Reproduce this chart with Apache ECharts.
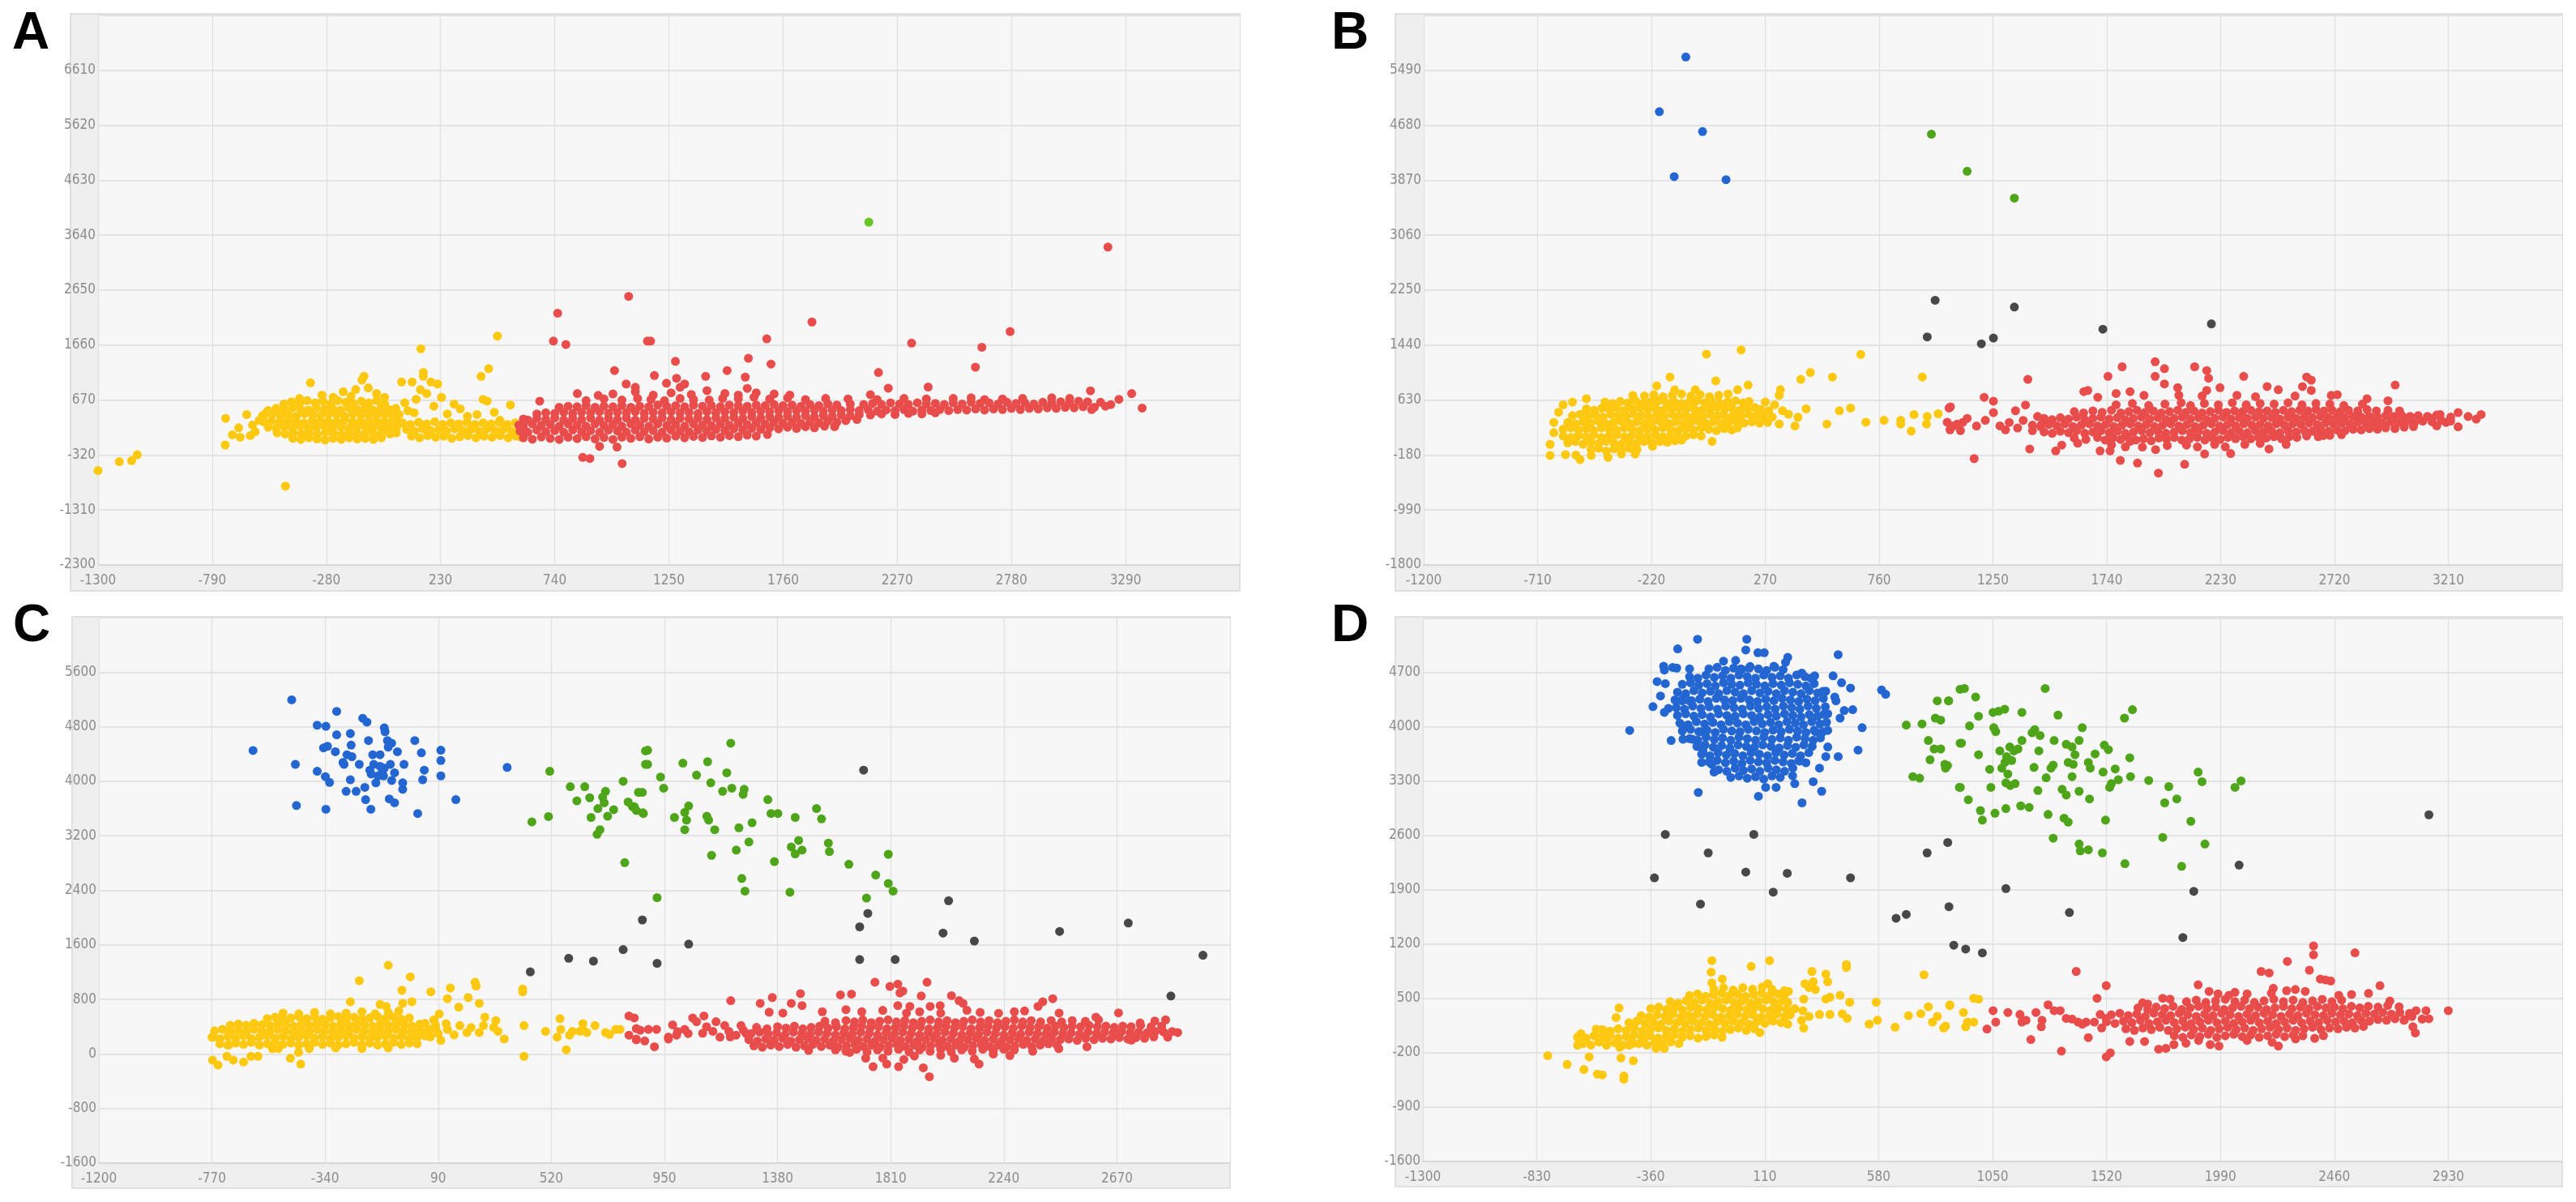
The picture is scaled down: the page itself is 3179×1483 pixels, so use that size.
<!DOCTYPE html>
<html><head><meta charset="utf-8">
<script src="https://cdn.jsdelivr.net/npm/echarts@6/dist/echarts.min.js"></script>
<style>html,body{margin:0;padding:0;background:#fff}#c{width:3179px;height:1483px}</style>
</head><body><div id="c"></div>
<script>
const panelLabels=['A','B','C','D'];
const aXRange=[-1300,3800,510], aYRange=[-2300,7600,990];
const bXRange=[-1200,3700,490], bYRange=[-1800,6300,810];
const cXRange=[-1200,3100,430], cYRange=[-1600,6400,800];
const dXRange=[-1300,3400,470], dYRange=[-1600,5400,700];

// ---------- Panel A ----------
const aYellow=[[-1300,-600],[-1205,-440],[-1150,-420],[-1125,-315],
[-730,340],[-732,-140],[-700,45],[-665,0],[-620,30],[-672,170],[-636,410],[-580,305],[-598,100],[-610,220],[-565,390],[-545,460],[-463,-880],[-351,980],
[-470,600],[-436,640],[-400,610],[-366,660],[-330,620],[-296,650],[-262,600],[-228,660],[-194,630],[-160,610],[-124,650],[-90,620],[-56,660],[-20,600],
[-540,480],[-504,520],[-468,500],[-432,530],[-396,510],[-360,490],[-324,530],[-288,500],[-252,520],[-216,490],[-180,530],[-144,500],[-108,520],[-72,490],[-36,530],[0,500],[30,520],
[-558,400],[-522,420],[-486,390],[-450,410],[-414,380],[-378,420],[-342,400],[-306,390],[-270,420],[-234,400],[-198,380],[-162,420],[-126,400],[-90,390],[-54,410],[-18,400],[18,380],[45,410],
[-560,280],[-524,300],[-488,270],[-452,300],[-416,290],[-380,260],[-344,300],[-308,280],[-272,290],[-236,270],[-200,300],[-164,280],[-128,290],[-92,270],[-56,300],[-20,280],[16,290],[40,270],
[-540,180],[-504,160],[-468,190],[-432,170],[-396,200],[-360,160],[-324,180],[-288,200],[-252,170],[-216,190],[-180,160],[-144,180],[-108,200],[-72,170],[-36,190],[0,160],[34,180],
[-500,80],[-464,60],[-428,90],[-392,60],[-356,80],[-320,50],[-284,90],[-248,70],[-212,50],[-176,80],[-140,60],[-104,90],[-68,60],[-32,80],[4,60],[32,80],
[-430,-20],[-394,-40],[-358,-10],[-322,-30],[-286,-50],[-250,-20],[-214,-40],[-178,-10],[-142,-30],[-106,-20],[-70,-40],[-34,-10],
[-112,1100],[-121,1030],[-149,860],[-93,890],[-205,820],[-56,790],[-300,760],[-250,720],[-20,720],[-400,700],[-170,740],
[56,995],[103,995],[153,1167],[153,1098],[187,995],[217,960],[140,857],[121,684],[168,788],[84,478],[112,443],[234,719],[142,1594],[484,1822],[445,1236],[411,1098],[420,684],[438,650],[318,512],[542,581],[495,306],[393,409],[70,620],[200,560],[260,420],[290,600],[350,380],[470,450],
[60,260],[96,230],[132,270],[168,240],[204,280],[240,230],[276,260],[312,240],[348,270],[384,230],[420,260],[456,240],[492,270],[528,230],[564,260],
[78,140],[114,110],[150,150],[186,120],[222,140],[258,110],[294,150],[330,120],[366,140],[402,110],[438,150],[474,120],[510,140],[546,110],[580,140],
[100,20],[136,-10],[172,30],[208,0],[244,20],[280,-20],[316,10],[352,30],[388,-10],[424,20],[460,0],[496,30],[532,-10],[568,20],[590,0]];
const aRed=[[600,-10],[640,-35],[680,5],[720,-20],[760,-40],[800,0],[840,-25],[880,10],[920,-30],[960,-5],[1000,-40],[1040,0],[1080,-20],[1120,10],[1160,-30],[1200,0],[1240,-15],[1280,20],[1320,-10],[1360,15],[1400,-5],[1440,25],[1480,0],[1520,30],[1560,10],[1600,40],[1640,20],[1690,50],
[585,110],[620,90],[660,130],[700,100],[740,120],[780,90],[820,130],[860,100],[900,120],[940,90],[980,130],[1020,110],[1060,90],[1100,130],[1140,100],[1180,120],[1220,90],[1260,130],[1300,110],[1340,100],[1380,130],[1420,110],[1460,140],[1500,120],[1540,150],[1580,130],[1620,160],[1660,140],[1700,170],[1740,150],[1780,180],[1820,160],[1860,190],[1900,170],[1945,200],[1990,190],
[580,220],[600,200],[640,240],[680,210],[720,230],[760,200],[800,240],[840,220],[880,200],[920,240],[960,210],[1000,230],[1040,200],[1080,240],[1120,220],[1160,200],[1200,240],[1240,210],[1280,230],[1320,200],[1360,240],[1400,220],[1440,210],[1480,240],[1520,220],[1560,250],[1600,230],[1640,260],[1680,240],[1720,270],[1760,250],[1800,270],[1840,250],[1880,280],[1920,260],[1960,290],[2000,270],[2040,300],[2090,320],
[600,330],[620,310],[660,340],[700,320],[740,350],[780,310],[820,340],[860,320],[900,350],[940,310],[980,340],[1020,320],[1060,350],[1100,310],[1140,340],[1180,330],[1220,350],[1260,320],[1300,340],[1340,330],[1380,350],[1420,320],[1460,350],[1500,340],[1540,360],[1580,340],[1620,370],[1660,350],[1700,370],[1740,360],[1780,380],[1820,360],[1860,390],[1900,370],[1940,390],[1980,380],[2020,400],[2060,390],[2100,410],[2150,400],[2200,420],[2260,410],[2320,430],[2380,420],[2440,440],
[660,420],[700,440],[740,430],[780,450],[820,430],[860,450],[900,440],[940,460],[980,430],[1020,450],[1060,440],[1100,460],[1140,430],[1180,450],[1220,440],[1260,460],[1300,440],[1340,450],[1380,430],[1420,460],[1460,440],[1500,460],[1540,450],[1580,470],[1620,450],[1660,470],[1700,460],[1740,480],[1780,460],[1820,480],[1860,470],[1900,490],[1940,470],[1980,490],[2020,480],[2060,500],[2100,480],[2140,500],[2180,470],[2220,490],[2260,480],[2300,500],[2340,470],[2380,490],[2420,480],[2460,500],[2500,480],[2540,500],[2580,490],[2620,510],[2660,490],[2700,510],[2740,500],[2780,520],[2820,500],[2860,520],[2900,510],[2940,530],[2980,520],[3020,540],[3060,530],[3100,550],[3150,540],[3200,560],
[760,540],[800,560],[840,550],[880,570],[920,540],[960,560],[1000,550],[1040,570],[1080,540],[1120,560],[1160,550],[1200,580],[1240,560],[1280,570],[1320,550],[1360,580],[1400,560],[1440,570],[1480,550],[1520,580],[1560,570],[1600,560],[1640,580],[1680,570],[1720,590],[1760,570],[1800,580],[1840,560],[1880,590],[1920,570],[1960,600],[2000,580],[2060,600],[2120,590],[2160,610],[2200,590],[2240,620],[2280,600],[2320,590],[2360,620],[2400,600],[2440,610],[2480,590],[2520,620],[2560,600],[2600,630],[2640,610],[2680,620],[2720,600],[2760,630],[2800,610],[2840,620],[2880,600],[2920,630],[2960,620],[3000,640],[3040,630],[3080,650],[3120,640],
[880,660],[960,690],[1040,670],[1110,700],[1170,680],[1230,660],[1300,700],[1360,680],[1430,670],[1490,700],[1560,690],[1630,720],[1700,690],[1780,710],[1860,680],[1950,700],[2050,690],[2180,680],[2300,700],[2400,690],[2520,700],[2600,710],[2660,680],[2740,690],[2830,700],[2960,710],[3040,700],
[1000,780],[1100,820],[1180,760],[1260,800],[1350,770],[1420,840],[1500,790],[1560,760],[1640,800],[1720,780],[1790,760],[1100,900],[1300,900],[1600,880],
[3211,3427],[1889,2077],[1687,1773],[1154,1732],[2334,1697],[2774,1904],[2648,1622],[2619,1263],[2186,1167],[1605,1422],[1706,1319],[1279,1367],[1510,1201],[1591,1084],[2408,905],[2230,884],[3133,836],[3317,788],[3364,526],[3260,684],[3224,589],[3178,630],[3138,499],[2150,767],[1185,1112],[1414,1098],[1284,1063],[1320,960],[1239,974],[753,2235],[734,1732],[790,1670],[1070,2538],[1168,1732],[1007,1201],[1059,960],[841,788],[934,754],[673,650],[865,-363],[897,-383],[1041,-473],[940,-163],[1018,-177]];
const aGreen=[[2143,3875]];

// ---------- Panel B ----------
const bYellow=[[-480,-100],[-447,-80],[-414,-120],[-381,-90],[-348,-110],[-315,-80],[-282,-100],
[-580,0],[-547,20],[-514,-20],[-481,10],[-448,-10],[-415,20],[-382,0],[-349,-20],[-316,10],[-283,-10],[-250,20],[-217,0],[-184,20],[-151,10],[-118,30],[-90,40],
[-600,100],[-567,80],[-534,110],[-501,90],[-468,120],[-435,80],[-402,100],[-369,120],[-336,90],[-303,110],[-270,80],[-237,100],[-204,120],[-171,90],[-138,110],[-105,80],[-72,100],[-39,120],[-6,100],
[-600,200],[-567,220],[-534,190],[-501,210],[-468,180],[-435,220],[-402,200],[-369,190],[-336,220],[-303,200],[-270,180],[-237,210],[-204,190],[-171,220],[-138,200],[-105,180],[-72,210],[-39,190],[-6,220],[27,200],[60,180],[93,210],[126,190],[150,220],
[-580,300],[-547,280],[-514,310],[-481,290],[-448,320],[-415,280],[-382,300],[-349,320],[-316,290],[-283,310],[-250,280],[-217,300],[-184,320],[-151,290],[-118,310],[-85,280],[-52,300],[-19,320],[14,290],[47,310],[80,280],[113,300],[146,320],[179,290],[212,310],[245,290],
[-560,400],[-527,420],[-494,390],[-461,410],[-428,380],[-395,420],[-362,400],[-329,390],[-296,420],[-263,400],[-230,380],[-197,410],[-164,390],[-131,420],[-98,400],[-65,380],[-32,410],[1,390],[34,420],[67,400],[100,380],[133,410],[166,390],[199,420],[232,400],[262,390],
[-500,500],[-467,480],[-434,510],[-401,490],[-368,520],[-335,480],[-302,500],[-269,520],[-236,490],[-203,510],[-170,480],[-137,500],[-104,520],[-71,490],[-38,510],[-5,480],[28,500],[61,520],[94,490],[127,510],[160,480],[193,500],[226,520],[250,490],
[-420,600],[-387,580],[-354,610],[-321,590],[-288,620],[-255,580],[-222,600],[-189,620],[-156,590],[-123,610],[-90,580],[-57,600],[-24,620],[9,590],[42,610],[75,580],[108,600],[141,620],[174,590],[200,610],
[-250,690],[-210,710],[-170,680],[-130,700],[-90,720],[-50,690],[-10,710],[30,680],[70,700],[110,720],
[-656,-23],[-656,-186],[-590,-175],[-527,-248],[-545,-180],[-479,-186],[-407,-214],[-349,-164],[-290,-164],[-215,-51],[-158,22],[41,22],[-640,300],[-640,150],[-620,450],[-600,560],[-560,600],[-500,650],
[-140,969],[17,1307],[166,1369],[57,913],[-31,783],[196,851],[151,783],[-197,840],[-120,780],[-300,700],
[285,473],[335,783],[330,700],[330,276],[344,473],[398,248],[411,377],[423,935],[464,1037],[446,501],[535,276],[559,969],[589,473],[637,512],[681,1302],[703,304],[781,332],[853,332],[853,276],[898,174],[910,417],[946,969],[967,389],[964,276],[1014,428],[300,380],[280,300],[310,560],[370,420],[270,600]];
const bRed=[[1067,530],[1053,304],[1080,250],[1110,180],[1120,300],[1061,513],[1065,191],[1139,360],[1096,276],[1212,671],[1252,614],[1252,445],[1217,332],[1169,-232],[1179,248],[1304,191],[1347,473],[1390,558],[1400,935],[1356,219],[1408,-91],[1442,389],[1460,276],[1320,300],[1280,250],[1380,330],[1420,180],
[1641,755],[1658,772],[1745,980],[1806,1121],[1948,1195],[1988,1093],[1948,980],[1988,868],[2045,812],[2118,1121],[2170,1065],[2178,952],[2170,772],[2227,812],[2329,980],[2430,829],[2478,783],[2582,829],[2600,969],[2620,924],[2620,772],[2981,851],[2706,699],[2732,710],[1701,671],[1780,727],[1840,755],[2300,700],[2380,680],[2550,690],[2150,690],[2050,700],[1900,700],[2860,650],[2950,620],
[1520,-119],[1546,-34],[1615,-6],[1711,-119],[1754,-119],[1798,-260],[1872,-299],[1962,-446],[2075,-316],[2161,-164],[2204,-23],[2273,-158],[2334,-23],[2438,-91],[2512,-23],[2672,107],[1893,-62],[1840,22],[2083,-34],[1760,-30],[1820,-60],[1950,-100],[2000,-40],[2130,-60],[2250,-60],[2400,-10],
[3252,445],[3252,236],[3295,389],[3330,349],[3351,417],[3140,360],[3174,417],[3200,300],[3160,250],[3220,380],
[1600,70],[1650,50],[1700,80],[1733,40],[1766,70],[1799,50],[1832,80],[1865,40],[1898,60],[1931,30],[1964,70],[1997,50],[2030,80],[2063,40],[2096,60],[2129,80],[2162,40],[2195,70],[2228,50],[2261,80],[2294,60],[2327,90],[2360,60],[2393,80],[2426,70],[2459,90],[2492,60],[2525,90],[2558,80],[2600,100],[2650,90],[2700,110],[2750,120],
[1470,160],[1505,140],[1540,170],[1575,150],[1610,180],[1645,140],[1680,160],[1715,180],[1750,150],[1785,170],[1820,140],[1855,160],[1890,180],[1925,150],[1960,170],[1995,140],[2030,160],[2065,180],[2100,150],[2135,170],[2170,140],[2205,160],[2240,180],[2275,150],[2310,170],[2345,150],[2380,180],[2415,160],[2450,170],[2485,150],[2520,180],[2555,160],[2590,180],[2625,170],[2660,190],[2695,170],[2730,190],[2765,180],[2800,200],[2835,190],[2870,210],[2905,200],[2940,220],[2980,210],[3020,230],[3060,240],
[1420,260],[1455,240],[1490,270],[1525,250],[1560,280],[1595,240],[1630,260],[1665,280],[1700,250],[1735,270],[1770,240],[1805,260],[1840,280],[1875,250],[1910,270],[1945,240],[1980,260],[2015,280],[2050,250],[2085,270],[2120,240],[2155,260],[2190,280],[2225,250],[2260,270],[2295,250],[2330,280],[2365,260],[2400,270],[2435,250],[2470,280],[2505,260],[2540,280],[2575,270],[2610,290],[2645,270],[2680,290],[2715,280],[2750,290],[2785,280],[2820,300],[2855,290],[2890,300],[2925,290],[2960,310],[2995,300],[3030,310],[3065,300],[3100,320],[3140,310],[3180,330],[3220,320],
[1470,360],[1505,340],[1540,370],[1575,350],[1610,380],[1645,340],[1680,360],[1715,380],[1750,350],[1785,370],[1820,340],[1855,360],[1890,380],[1925,350],[1960,370],[1995,340],[2030,360],[2065,380],[2100,350],[2135,370],[2170,340],[2205,360],[2240,380],[2275,350],[2310,370],[2345,360],[2380,380],[2415,360],[2450,370],[2485,350],[2520,380],[2555,360],[2590,380],[2625,370],[2660,390],[2695,370],[2730,380],[2765,370],[2800,390],[2835,380],[2870,390],[2905,380],[2940,400],[2975,390],[3010,400],[3045,390],[3080,400],[3120,390],[3160,410],
[1600,460],[1640,440],[1680,470],[1720,450],[1760,480],[1800,440],[1835,460],[1870,480],[1905,450],[1940,470],[1975,440],[2010,460],[2045,480],[2080,450],[2115,470],[2150,440],[2185,460],[2220,480],[2255,450],[2290,470],[2325,460],[2360,480],[2395,460],[2430,470],[2465,450],[2500,480],[2535,460],[2570,480],[2605,470],[2640,490],[2675,470],[2710,480],[2745,460],[2780,480],[2820,470],[2860,490],[2900,470],[2950,480],[3000,470],
[1780,560],[1850,580],[1920,550],[1990,570],[2060,590],[2100,550],[2160,580],[2220,560],[2280,590],[2340,560],[2400,580],[2460,570],[2520,590],[2580,560],[2640,580],[2700,570],[2760,550],[2840,570]];
const bBlue=[[-72,5687],[-186,4881],[0,4588],[-122,3923],[101,3878]];
const bGreen=[[985,4549],[1139,4002],[1342,3607]];
const bGray=[[1001,2102],[967,1561],[1342,2001],[1200,1459],[1252,1544],[1723,1674],[2190,1753]];

// ---------- Panel C ----------
const cYellow=[[-740,150],[-710,130],[-680,160],[-650,140],[-620,170],[-590,130],[-560,150],[-530,170],[-500,140],[-470,160],[-440,130],[-410,150],[-380,170],[-350,140],[-320,160],[-290,130],[-260,150],[-230,170],[-200,140],[-170,160],[-140,130],[-110,150],[-80,170],[-50,140],[-20,160],[10,150],
[-770,245],[-740,225],[-710,255],[-680,235],[-650,265],[-620,225],[-590,245],[-560,265],[-530,235],[-500,255],[-470,225],[-440,245],[-410,265],[-380,235],[-350,255],[-320,225],[-290,245],[-260,265],[-230,235],[-200,255],[-170,225],[-140,245],[-110,265],[-80,235],[-50,255],[-20,225],[10,245],[40,265],
[-760,340],[-730,360],[-700,330],[-670,350],[-640,320],[-610,360],[-580,340],[-550,330],[-520,360],[-490,340],[-460,320],[-430,350],[-400,330],[-370,360],[-340,340],[-310,320],[-280,350],[-250,330],[-220,360],[-190,340],[-160,320],[-130,350],[-100,330],[-70,360],[-40,340],[-10,320],[20,350],[50,330],
[-700,420],[-670,440],[-640,420],[-610,450],[-580,430],[-550,420],[-520,450],[-490,430],[-460,410],[-430,440],[-400,420],[-370,450],[-340,430],[-310,410],[-280,440],[-250,420],[-220,450],[-190,430],[-160,410],[-130,440],[-100,420],[-70,450],[-40,430],[-10,410],[20,440],
[-560,520],[-530,540],[-500,510],[-470,530],[-440,550],[-410,520],[-380,540],[-350,510],[-320,530],[-290,550],[-260,520],[-230,540],[-200,510],[-170,530],[-140,550],[-110,520],[-80,540],[-50,510],[-20,530],
[-500,600],[-440,590],[-380,610],[-320,590],[-260,600],[-200,620],[-150,590],[-100,610],[-60,630],
[-765,248],[-768,-90],[-747,-163],[-713,-34],[-689,-90],[-650,-118],[-622,-34],[-595,-34],[-705,135],[-540,79],[-518,79],[-472,-62],[-441,23],[-433,-147],[-244,766],[-210,1076],[-100,1301],[-16,1132],[-48,935],[-45,743],[-10,766],[-131,727],[-108,698],[-400,80],[-300,90],[-200,80],[-100,90],
[62,912],[136,969],[125,811],[204,828],[230,1053],[234,997],[246,743],[168,687],[94,586],[73,501],[267,541],[309,490],[341,220],[317,332],[301,389],[262,417],[215,389],[246,315],[199,315],[172,417],[120,445],[125,360],[81,360],[58,360],[411,952],[411,912],[416,417],[416,-34],[498,332],[553,518],[542,248],[556,360],[577,62],[600,332],[589,276],[640,445],[640,360],[629,332],[655,315],[686,417],[726,315],[741,287],[765,360],[781,360],[60,250],[90,300],[100,200],[150,280],[40,450],[80,420]];
const cRed=[[815,558],[843,372],[815,276],[843,208],[875,191],[835,529],[858,349],[889,360],[920,360],[965,248],[981,428],[996,276],[1027,360],[1057,529],[1072,473],[1100,558],[1095,304],[1134,332],[1146,473],[1161,248],[1179,417],[1195,332],[1222,276],[1241,417],[1260,300],[912,107],[843,220],[965,220],[1000,330],[1040,300],[1110,400],[1200,250],[1250,350],
[1202,783],[1314,743],[1360,828],[1348,614],[1432,743],[1467,885],[1473,710],[1619,868],[1661,879],[1750,1053],[1807,991],[1837,1025],[1845,896],[1856,924],[1948,1053],[1926,851],[1837,710],[1883,698],[2041,856],[2070,783],[2085,743],[1960,698],[1998,710],[2388,766],[2426,811],[2370,698],[2319,631],[2220,597],[2676,603],[2590,541],[2758,456],[2814,484],[2855,501],[2901,315],[2863,248],[2725,203],[1700,620],[1780,640],[1870,600],[1920,620],[2000,600],[2100,640],[2150,610],[2280,620],[2450,600],[1400,600],[1550,620],[1640,650],
[1743,-186],[1795,-147],[1840,-186],[1957,-333],[1934,-203],[2052,-62],[2128,-73],[2146,-147],[2263,-23],[1715,-62],[1654,23],[1498,51],[2556,107],[2449,79],[1780,-60],[1860,-80],[1900,-30],[2000,-20],[2200,0],[2350,40],
[1600,60],[1640,40],[1680,70],[1720,30],[1760,60],[1800,40],[1840,70],[1880,30],[1920,60],[1960,40],[2000,70],[2040,30],[2080,60],[2120,40],[2160,70],[2200,50],[2240,70],[2280,60],
[1290,120],[1322,100],[1354,130],[1386,110],[1418,140],[1450,100],[1482,120],[1514,140],[1546,110],[1578,130],[1610,100],[1642,120],[1674,140],[1706,110],[1738,130],[1770,100],[1802,120],[1834,140],[1866,110],[1898,130],[1930,100],[1962,120],[1994,140],[2026,110],[2058,130],[2090,100],[2122,120],[2154,140],[2186,110],[2218,130],[2250,100],[2282,120],[2314,140],[2346,110],[2378,130],[2410,150],[2442,130],
[1271,210],[1303,190],[1335,220],[1367,200],[1399,230],[1431,190],[1463,210],[1495,230],[1527,200],[1559,220],[1591,190],[1623,210],[1655,230],[1687,200],[1719,220],[1751,190],[1783,210],[1815,230],[1847,200],[1879,220],[1911,190],[1943,210],[1975,230],[2007,200],[2039,220],[2071,190],[2103,210],[2135,230],[2167,200],[2199,220],[2231,190],[2263,210],[2295,230],[2327,200],[2359,220],[2391,200],[2423,230],[2455,210],[2487,220],[2519,200],[2551,230],[2583,210],[2615,230],[2647,220],[2679,240],[2711,220],[2743,240],[2775,230],[2810,250],
[1280,300],[1312,320],[1344,290],[1376,310],[1408,280],[1440,320],[1472,300],[1504,290],[1536,320],[1568,300],[1600,280],[1632,310],[1664,290],[1696,320],[1728,300],[1760,280],[1792,310],[1824,290],[1856,320],[1888,300],[1920,280],[1952,310],[1984,290],[2016,320],[2048,300],[2080,280],[2112,310],[2144,290],[2176,320],[2208,300],[2240,280],[2272,310],[2304,290],[2336,320],[2368,300],[2400,290],[2432,320],[2464,300],[2496,310],[2528,290],[2560,320],[2592,300],[2624,320],[2656,310],[2688,330],[2720,310],[2752,320],[2784,310],[2816,330],[2848,320],[2880,330],
[1300,390],[1340,370],[1380,400],[1412,380],[1444,410],[1476,370],[1508,390],[1540,410],[1572,380],[1604,400],[1636,370],[1668,390],[1700,410],[1732,380],[1764,400],[1796,370],[1828,390],[1860,410],[1892,380],[1924,400],[1956,370],[1988,390],[2020,410],[2052,380],[2084,400],[2116,370],[2148,390],[2180,410],[2212,380],[2244,400],[2276,380],[2308,410],[2340,390],[2372,400],[2404,380],[2436,410],[2468,390],[2500,410],[2532,400],[2564,420],[2596,400],[2628,410],[2660,390],[2692,410],[2724,400],[2760,420],[2800,400],[2840,410],
[1560,480],[1600,460],[1640,490],[1672,470],[1704,500],[1736,460],[1768,480],[1800,500],[1832,470],[1864,490],[1896,460],[1928,480],[1960,500],[1992,470],[2024,490],[2056,460],[2088,480],[2120,500],[2152,470],[2184,490],[2216,460],[2248,480],[2280,500],[2312,470],[2344,490],[2380,470],[2420,490],[2460,470],[2500,490],[2550,480],[2600,500]];
const cBlue=[[-467,5194],[-614,4451],[-453,4248],[-449,3645],[-337,3589],[-370,4822],[-337,4806],[-296,5025],[-296,4682],[-244,4699],[-346,4490],[-331,4513],[-301,4434],[-257,4389],[-238,4361],[-268,4248],[-272,4276],[-370,4146],[-339,4068],[-323,3983],[-244,4022],[-260,3853],[-222,3853],[-197,4924],[-181,4868],[-115,4783],[-112,4727],[-175,4597],[-159,4389],[-131,4389],[-170,4163],[-165,4107],[-131,4220],[-123,4135],[-115,4191],[-92,4248],[-87,4558],[-100,4501],[-103,4597],[-65,4434],[-87,4011],[-76,4124],[-118,4079],[-147,3977],[-189,3910],[-186,3730],[-166,3589],[-96,3741],[-76,3684],[-45,3977],[-45,3882],[-40,4248],[1,4597],[26,4417],[37,4163],[31,4022],[100,4456],[100,4304],[100,4079],[12,3527],[157,3730],[352,4203],[-241,4530],[-210,4248],[-155,4248],[-139,4079]];
const cGreen=[[514,4146],[446,3403],[509,3482],[592,3921],[647,3921],[617,3713],[666,3758],[697,3600],[671,3470],[694,3222],[705,3290],[715,3769],[726,3853],[721,3684],[734,3487],[757,3583],[793,4000],[799,2806],[812,3696],[828,3628],[843,3572],[867,3538],[851,3837],[878,4445],[878,4248],
[886,4456],[886,4248],[935,4062],[947,3899],[866,3837],[835,3628],[870,3527],[922,2293],[1020,4265],[1072,4090],[1114,4287],[1126,3977],[1202,4558],[1187,4124],[1171,3853],[1206,3899],[1253,3882],[1249,3808],[988,3470],[1027,3543],[1042,3639],[1034,3431],[1027,3290],[1111,3487],[1118,3431],[1141,3290],[1129,2913],[1233,3318],[1223,2991],[1271,3110],[1283,3392],[1244,2575],[1256,2389],[1343,3730],[1355,3527],[1381,3527],[1368,2822],[1447,3470],[1432,3037],[1447,2935],[1460,3132],[1473,2991],[1427,2372],[1528,3600],[1547,3448],[1573,3093],[1577,2969],[1651,2783],[1753,2625],[1801,2929],[1801,2501],[1819,2389],[1718,2287]];
const cGray=[[1707,4163],[1042,1611],[922,1330],[1692,1865],[1723,2062],[1692,1386],[1827,1386],[2030,2248],[2009,1774],[2128,1656],[2452,1797],[2713,1921],[2997,1448],[2875,851],[440,1205],[586,1403],[680,1363],[793,1532],[866,1966]];

// ---------- Panel D ----------
const dYellow=[[-640,-80],[-607,-100],[-574,-60],[-541,-90],[-508,-70],[-475,-100],[-442,-60],[-409,-80],[-376,-100],[-343,-70],[-310,-90],[-277,-60],[-244,-80],
[-660,10],[-627,-10],[-594,20],[-561,0],[-528,30],[-495,-10],[-462,10],[-429,30],[-396,0],[-363,20],[-330,-10],[-297,10],[-264,30],[-231,0],[-198,20],[-165,-10],[-132,10],[-99,30],[-66,0],
[-560,100],[-527,80],[-494,110],[-461,90],[-428,120],[-395,80],[-362,100],[-329,120],[-296,90],[-263,110],[-230,80],[-197,100],[-164,120],[-131,90],[-98,110],[-65,80],[-32,100],[1,120],[34,90],[67,110],[90,60],
[-450,190],[-417,210],[-384,180],[-351,200],[-318,170],[-285,210],[-252,190],[-219,180],[-186,210],[-153,190],[-120,170],[-87,200],[-54,180],[-21,210],[12,190],[45,170],[78,200],[111,180],[144,210],[177,190],[205,170],
[-400,280],[-367,260],[-334,290],[-301,270],[-268,300],[-235,260],[-202,280],[-169,300],[-136,270],[-103,290],[-70,260],[-37,280],[-4,300],[29,270],[62,290],[95,260],[128,280],[161,300],[194,270],[215,290],
[-360,370],[-327,390],[-294,360],[-261,380],[-228,350],[-195,390],[-162,370],[-129,360],[-96,390],[-63,370],[-30,350],[3,380],[36,360],[69,390],[102,370],[135,350],[168,380],[201,360],
[-280,460],[-247,440],[-214,470],[-181,450],[-148,480],[-115,440],[-82,460],[-49,480],[-16,450],[17,470],[50,440],[83,460],[116,480],[149,450],[182,470],[205,450],
[-200,540],[-167,560],[-134,530],[-101,550],[-68,570],[-35,540],[-2,560],[31,530],[64,550],[97,570],[130,540],[163,560],[190,540],
[-100,620],[-60,640],[-20,610],[20,640],[60,620],[100,650],[140,620],
[-785,-236],[-705,-350],[-636,-415],[-580,-474],[-560,-484],[-471,-499],[-471,-539],[-432,-301],[-483,-266],[-614,-251],[-662,-3],[-662,-102],[-648,47],[-628,-53],[-585,106],[-580,-3],[-543,71],[-539,-3],[-543,-102],[-491,379],[-503,255],[-488,-127],[-449,-102],[-432,-77],[-389,-53],[-338,-142],[-304,-142],[-108,989],[54,915],[130,989],[-111,840],[-108,701],[-65,751],[123,691],[191,602],[208,592],
[234,369],[276,691],[293,642],[310,716],[305,850],[319,617],[362,815],[370,716],[379,518],[421,543],[362,493],[271,493],[267,344],[262,220],[271,121],[293,270],[336,295],[379,295],[430,305],[447,940],[447,900],[461,453],[450,245],[541,171],[570,453],[575,220],[648,131],[703,280],[754,305],[767,806],[785,394],[802,196],[822,270],[848,121],[874,418],[856,146],[873,409],[930,320],[939,136],[947,196],[972,196],[972,503],[992,493]];
const dRed=[[1052,344],[1063,196],[1027,107],[1113,320],[1163,295],[1171,196],[1188,220],[1208,-28],[1229,320],[1254,220],[1251,136],[1279,419],[1304,344],[1329,344],[1334,-177],[1354,245],[1395,850],[1378,235],[1403,196],[1420,171],[1445,-3],[1436,196],[1481,503],[1470,196],[1494,295],[1519,667],[1519,-251],[1536,-201],[1519,245],[1500,120],
[1752,503],[1782,493],[1669,444],[1690,430],[1898,677],[1943,592],[2025,543],[2158,850],[2191,830],[2266,979],[2208,632],[2263,602],[2299,617],[2340,592],[2357,865],[2374,1178],[2374,1064],[2402,751],[2423,741],[2445,726],[2545,1089],[2478,543],[2531,553],[2601,567],[2648,667],[2689,468],[2727,394],[2100,560],[2050,580],[1980,560],[2200,570],
[1616,-53],[1677,-53],[1735,-152],[1765,-142],[1798,-93],[1848,-77],[1948,-93],[1984,-112],[2203,-63],[2229,-112],[2379,-13],[2415,22],[2784,136],[2794,57],[1900,-40],[2100,-40],[2300,-20],
[2797,344],[2838,344],[2822,235],[2850,240],[2930,344],[2780,270],[2747,220],
[1800,20],[1835,0],[1870,30],[1905,10],[1940,40],[1975,0],[2010,20],[2045,40],[2080,10],[2115,30],[2150,0],[2185,20],[2220,40],[2255,10],[2290,30],[2330,20],
[1600,110],[1635,90],[1670,120],[1705,100],[1740,130],[1775,90],[1810,110],[1845,130],[1880,100],[1915,120],[1950,90],[1985,110],[2020,130],[2055,100],[2090,120],[2125,90],[2160,110],[2195,130],[2230,100],[2265,120],[2300,90],[2335,110],[2370,130],[2405,100],[2440,120],[2475,110],[2510,130],[2545,120],[2580,140],
[1520,200],[1555,180],[1590,210],[1625,190],[1660,220],[1695,180],[1730,200],[1765,220],[1800,190],[1835,210],[1870,180],[1905,200],[1940,220],[1975,190],[2010,210],[2045,180],[2080,200],[2115,220],[2150,190],[2185,210],[2220,180],[2255,200],[2290,220],[2325,190],[2360,210],[2395,190],[2430,220],[2465,200],[2500,210],[2535,190],[2570,220],[2605,210],[2640,230],[2675,220],[2710,240],[2750,230],
[1540,290],[1575,310],[1610,280],[1645,300],[1680,270],[1715,310],[1750,290],[1785,280],[1820,310],[1855,290],[1890,270],[1925,300],[1960,280],[1995,310],[2030,290],[2065,270],[2100,300],[2135,280],[2170,310],[2205,290],[2240,270],[2275,300],[2310,280],[2345,310],[2380,290],[2415,280],[2450,310],[2485,290],[2520,300],[2555,280],[2590,310],[2625,300],[2660,320],[2695,300],[2730,320],[2770,310],
[1650,380],[1690,360],[1725,390],[1760,370],[1795,400],[1830,360],[1865,380],[1900,400],[1935,370],[1970,390],[2005,360],[2040,380],[2075,400],[2110,370],[2145,390],[2180,360],[2215,380],[2250,400],[2285,370],[2320,390],[2355,370],[2390,400],[2425,380],[2460,390],[2495,370],[2530,400],[2565,380],[2600,400],[2640,390],[2680,410],
[1850,460],[1890,480],[1930,450],[1970,470],[2010,490],[2050,460],[2090,480],[2130,450],[2170,470],[2210,490],[2250,460],[2290,480],[2330,450],[2370,470],[2410,490],[2450,460],[2490,480]];
const dBlue=[[-120,4750],[-86,4770],[-52,4730],[-18,4760],[16,4740],[50,4780],[84,4750],[118,4730],[152,4770],[186,4740],
[-200,4650],[-166,4630],[-132,4670],[-98,4640],[-64,4660],[-30,4630],[4,4670],[38,4650],[72,4630],[106,4670],[140,4640],[174,4660],[208,4630],[242,4670],[276,4650],[300,4630],
[-230,4550],[-196,4570],[-162,4540],[-128,4560],[-94,4530],[-60,4570],[-26,4550],[8,4540],[42,4570],[76,4550],[110,4530],[144,4560],[178,4540],[212,4570],[246,4550],[280,4530],[314,4560],
[-250,4450],[-216,4430],[-182,4470],[-148,4440],[-114,4460],[-80,4430],[-46,4470],[-12,4450],[22,4430],[56,4470],[90,4440],[124,4460],[158,4430],[192,4470],[226,4450],[260,4430],[294,4470],[328,4440],[350,4460],
[-260,4350],[-226,4370],[-192,4340],[-158,4360],[-124,4330],[-90,4370],[-56,4350],[-22,4340],[12,4370],[46,4350],[80,4330],[114,4360],[148,4340],[182,4370],[216,4350],[250,4330],[284,4360],[318,4340],[352,4370],
[-255,4250],[-221,4230],[-187,4270],[-153,4240],[-119,4260],[-85,4230],[-51,4270],[-17,4250],[17,4230],[51,4270],[85,4240],[119,4260],[153,4230],[187,4270],[221,4250],[255,4230],[289,4270],[323,4240],[360,4260],
[-250,4150],[-216,4170],[-182,4140],[-148,4160],[-114,4130],[-80,4170],[-46,4150],[-12,4140],[22,4170],[56,4150],[90,4130],[124,4160],[158,4140],[192,4170],[226,4150],[260,4130],[294,4160],[328,4140],[370,4170],
[-240,4050],[-206,4030],[-172,4070],[-138,4040],[-104,4060],[-70,4030],[-36,4070],[-2,4050],[32,4030],[66,4070],[100,4040],[134,4060],[168,4030],[202,4070],[236,4050],[270,4030],[304,4070],[338,4040],[365,4060],
[-230,3950],[-196,3970],[-162,3940],[-128,3960],[-94,3930],[-60,3970],[-26,3950],[8,3940],[42,3970],[76,3950],[110,3930],[144,3960],[178,3940],[212,3970],[246,3950],[280,3930],[314,3960],[350,3940],
[-200,3850],[-166,3830],[-132,3870],[-98,3840],[-64,3860],[-30,3830],[4,3870],[38,3850],[72,3830],[106,3870],[140,3840],[174,3860],[208,3830],[242,3870],[276,3850],[310,3830],[340,3860],
[-170,3750],[-136,3770],[-102,3740],[-68,3760],[-34,3730],[0,3770],[34,3750],[68,3740],[102,3770],[136,3750],[170,3730],[204,3760],[238,3740],[272,3770],[306,3750],
[-150,3650],[-116,3630],[-82,3670],[-48,3640],[-14,3660],[20,3630],[54,3670],[88,3650],[122,3630],[156,3670],[190,3640],[224,3660],[258,3630],[292,3670],
[-120,3550],[-86,3570],[-52,3540],[-18,3560],[16,3530],[50,3570],[84,3550],[118,3540],[152,3570],[186,3550],[220,3530],[254,3560],[280,3540],
[-80,3450],[-46,3430],[-12,3470],[22,3440],[56,3460],[90,3430],[124,3470],[158,3450],[192,3430],[226,3470],
[-30,3350],[4,3370],[38,3340],[72,3360],[106,3330],[140,3370],[174,3350],
[-447,3956],[-351,4263],[-334,4586],[-307,4784],[-304,4735],[-276,3827],[-270,4769],[-253,4760],[-249,5008],[-304,4189],[-287,4239],[-253,4338],[-230,4338],[-201,4338],[-227,4015],[-218,4005],[-227,3842],[-188,3842],[-167,5132],[-150,3941],[-150,3544],[-145,3693],[-164,3157],[-108,3519],[-99,3420],[36,5132],[32,4993],[82,4958],[108,4958],[-10,4859],[12,4750],[46,4760],[84,3108],[114,3222],[157,3222],[205,4898],[196,4834],[148,4784],[264,3023],[234,3271],[225,3371],[345,3172],[316,4660],[263,4695],[336,3470],[310,3296],[362,4462],[392,4660],[413,4933],[427,4571],[362,3619],[413,3619],[399,4387],[404,4338],[438,4214],[421,4115],[464,4502],[473,4224],[495,3703],[512,3991],[370,3956],[370,3743],[319,3941],[592,4477],[609,4422],[353,4164],[251,3569],[-60,4850],[-200,4750],[-300,4560],[-320,4400]];
const dGreen=[[694,4025],[759,4040],[822,4338],[868,4338],[814,4115],[836,4090],[785,3827],[809,3718],[836,3718],[792,3579],[853,3519],[856,3470],[721,3361],[749,3341],[916,4487],[916,3792],[913,3222],
[869,4338],[864,3504],[934,4497],[980,4387],[992,4139],[955,4015],[922,3792],[992,3643],[917,3222],[950,3063],[1000,2924],[1008,2800],[1038,3455],[1043,3222],[1060,2889],[1105,2949],[1052,4189],[1075,4204],[1100,4229],[1055,3991],[1063,3941],[1080,3693],[1088,3470],[1101,3544],[1108,3619],[1121,3743],[1138,3693],[1155,3718],[1129,3569],[1113,3395],[1105,3281],[1123,3246],[1143,3271],[1171,4189],[1171,3827],[1166,2984],[1201,2964],[1213,3926],[1221,3479],[1224,3966],[1246,3891],[1241,3693],[1267,4497],[1237,3182],[1279,2874],[1271,3346],[1291,3470],[1304,3827],[1320,4154],[1300,3509],[1337,3197],[1345,2825],[1354,3123],[1362,2775],[1354,3777],[1378,3743],[1390,3643],[1362,3544],[1383,3519],[1378,3361],[1407,3172],[1407,3827],[1420,3991],[1407,2492],[1412,2403],[1445,2418],[1300,2567],[1450,3073],[1445,3544],[1453,3470],[1473,3653],[1503,2378],[1516,2800],[1506,3420],[1511,3767],[1528,3708],[1533,3222],[1540,3271],[1556,3460],[1569,3321],[1594,4115],[1627,4224],[1616,3604],[1619,3361],[1596,2239],[1694,3311],[1752,2577],[1760,3023],[1777,3232],[1810,3073],[1830,2205],[1868,2785],[1898,3420],[1914,3296],[1926,2492],[2050,3222],[2075,3306]];
const dGray=[[-300,2616],[65,2616],[-123,2378],[-345,2056],[32,2130],[203,2115],[464,2056],[145,1872],[-155,1718],[652,1535],[694,1585],[780,2378],[865,2512],[870,1684],[890,1188],[939,1138],[1008,1088],[1105,1917],[1367,1609],[1835,1287],[1880,1882],[2067,2220],[2850,2869]];

// ---------- layout ----------
const FONT="'Liberation Sans Narrow','DejaVu Sans Condensed','Liberation Sans',Arial,sans-serif";
const grids=[
 {left:121,top:19,width:1409,height:678},
 {left:1757,top:19,width:1405,height:678},
 {left:122,top:762,width:1396,height:673},
 {left:1756,top:763,width:1406,height:670}];
const frames=[[87,17,1443,712],[1722,17,1440,712],[89,761,1429,705],[1722,761,1440,703]];
const letterPos=[[15,42],[1643,42],[16,773],[1643,773]];
const xr=[aXRange,bXRange,cXRange,dXRange], yr=[aYRange,bYRange,cYRange,dYRange];
const COL={yellow:'#fdc810',red:'#e94d4b',blue:'#2366d1',green:'#4fa51a',greenA:'#63c720',gray:'#484848'};

const fmt=v=>String(v);
const xAxes=xr.map((r,i)=>({gridIndex:i,type:'value',min:r[0],max:r[1],interval:r[2],
 axisLabel:{showMaxLabel:false,showMinLabel:true,color:'#8c8c8c',fontSize:17,fontFamily:FONT,margin:11,formatter:fmt},
 axisLine:{show:true,onZero:false,lineStyle:{color:'#d8d8d8',width:2}},axisTick:{show:false},
 splitLine:{show:true,lineStyle:{color:'#e0e0e0',width:1.2}}}));
const yAxes=yr.map((r,i)=>({gridIndex:i,type:'value',min:r[0],max:r[1],interval:r[2],
 axisLabel:{showMaxLabel:false,showMinLabel:true,color:'#8c8c8c',fontSize:17,fontFamily:FONT,margin:3,formatter:fmt},
 axisLine:{show:true,onZero:false,lineStyle:{color:'#e2e2e2',width:1}},axisTick:{show:false},
 splitLine:{show:true,lineStyle:{color:'#dedede',width:1.6}}}));

function sc(data,color,gi){return {type:'scatter',xAxisIndex:gi,yAxisIndex:gi,data:data,symbol:'circle',symbolSize:11,itemStyle:{color:color,opacity:1},silent:true,animation:false};}
const series=[
 sc(aYellow,COL.yellow,0),sc(aRed,COL.red,0),sc(aGreen,COL.greenA,0),
 sc(bYellow,COL.yellow,1),sc(bRed,COL.red,1),sc(bBlue,COL.blue,1),sc(bGreen,COL.green,1),sc(bGray,COL.gray,1),
 sc(cYellow,COL.yellow,2),sc(cRed,COL.red,2),sc(cBlue,COL.blue,2),sc(cGreen,COL.green,2),sc(cGray,COL.gray,2),
 sc(dYellow,COL.yellow,3),sc(dRed,COL.red,3),sc(dBlue,COL.blue,3),sc(dGreen,COL.green,3),sc(dGray,COL.gray,3)];

const graphics=[];
frames.forEach(f=>graphics.push({type:'rect',z:-10,silent:true,shape:{x:f[0],y:f[1],width:f[2],height:f[3]},style:{fill:'#efefef',stroke:'#d9d9d9',lineWidth:1.5}}));
panelLabels.forEach((t,i)=>graphics.push({type:'text',z:100,silent:true,x:letterPos[i][0],y:letterPos[i][1],style:{text:t,fill:'#000',font:"bold 64px 'Liberation Sans',Arial,sans-serif",textAlign:'left',textVerticalAlign:'middle'}}));

const chart=echarts.init(document.getElementById('c'),null,{renderer:'canvas'});
chart.setOption({
 backgroundColor:'#ffffff',animation:false,
 grid:grids.map(g=>Object.assign({show:true,backgroundColor:'#f7f7f7',borderWidth:0,containLabel:false},g)),
 xAxis:xAxes,yAxis:yAxes,series:series,graphic:{elements:graphics}
});
</script></body></html>
